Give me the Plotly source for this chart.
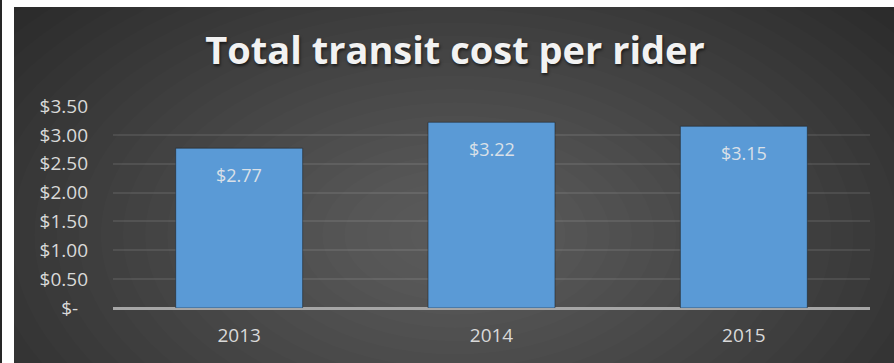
import plotly.graph_objects as go

# ---- data ----
years = ["2013", "2014", "2015"]
cost_per_rider = [2.77, 3.22, 3.15]
ytick_vals = [0, 0.5, 1.0, 1.5, 2.0, 2.5, 3.0, 3.5]
ytick_text = ["$-\u00a0\u00a0", "$0.50", "$1.00", "$1.50", "$2.00", "$2.50", "$3.00", "$3.50"]
title_text = "Total transit cost per rider"

W, H = 894, 363
ML, MR, MT, MB = 113, 24, 106, 55
PW, PH = W - ML - MR, H - MT - MB


def px_x(px):
    return (px - ML) / PW


def px_y(py):
    return (H - MB - py) / PH


fig = go.Figure()
fig.add_trace(go.Bar(
    x=years, y=cost_per_rider,
    marker=dict(color="#5a9ad6", line=dict(color="rgba(20,20,20,0.45)", width=1)),
    width=0.503,
))

shapes = []
# dark chart panel
shapes.append(dict(type="rect", xref="paper", yref="paper",
                   x0=px_x(14), x1=px_x(W + 5), y0=px_y(H + 5), y1=px_y(7),
                   fillcolor="#262626", line=dict(width=0), layer="below"))
# radial glow
N = 28
cx, cy = 455, 235
for i in range(N):
    rx = 620 * (1 - i / N)
    ry = rx * 0.6
    shapes.append(dict(type="circle", xref="paper", yref="paper",
                       x0=px_x(cx - rx), x1=px_x(cx + rx),
                       y0=px_y(cy + ry), y1=px_y(cy - ry),
                       fillcolor="rgba(255,255,255,0.0115)", line=dict(width=0), layer="below"))
# white margins (top, left) and thin dark strip at far left
shapes.append(dict(type="rect", xref="paper", yref="paper",
                   x0=px_x(-300), x1=px_x(W + 300), y0=px_y(7), y1=px_y(-300),
                   fillcolor="white", line=dict(width=0), layer="below"))
shapes.append(dict(type="rect", xref="paper", yref="paper",
                   x0=px_x(2), x1=px_x(14), y0=px_y(H + 300), y1=px_y(-300),
                   fillcolor="white", line=dict(width=0), layer="below"))
shapes.append(dict(type="rect", xref="paper", yref="paper",
                   x0=px_x(-300), x1=px_x(2), y0=px_y(H + 300), y1=px_y(-300),
                   fillcolor="#262626", line=dict(width=0), layer="below"))

annotations = []
for i, v in enumerate(cost_per_rider):
    annotations.append(dict(x=i, y=v, xref="x", yref="y", text=f"${v:.2f}",
                            showarrow=False, yshift=-27, yanchor="middle",
                            font=dict(family="Open Sans", size=18, color="#d9e0e8")))

fig.update_layout(
    width=W, height=H,
    margin=dict(l=ML, r=MR, t=MT, b=MB),
    paper_bgcolor="white",
    plot_bgcolor="rgba(0,0,0,0)",
    showlegend=False,
    shapes=shapes,
    annotations=annotations,
    title=dict(text=f"<b>{title_text}</b>", xref="container", yref="container",
               x=455 / W, xanchor="center", y=1 - 51 / H, yanchor="middle",
               font=dict(family="Open Sans", size=38, color="#f2f2f2",
                         shadow="1px 2px 3px rgba(0,0,0,0.6)")),
    xaxis=dict(type="category", range=[-0.5, len(years) - 0.5],
               showgrid=False, showline=False, zeroline=False,
               tickfont=dict(family="Open Sans", size=19, color="#d9d9d9"),
               ticks="", ticklabelstandoff=14),
    yaxis=dict(range=[0, 3.502], tickvals=ytick_vals, ticktext=ytick_text,
               showgrid=True, gridcolor="rgba(255,255,255,0.09)", gridwidth=1.5,
               zeroline=True, zerolinecolor="#a6a6a6", zerolinewidth=2.5,
               showline=False, ticks="",
               tickfont=dict(family="Open Sans", size=19, color="#d9d9d9"),
               ticklabelstandoff=24),
)

fig.write_html("out.html")
